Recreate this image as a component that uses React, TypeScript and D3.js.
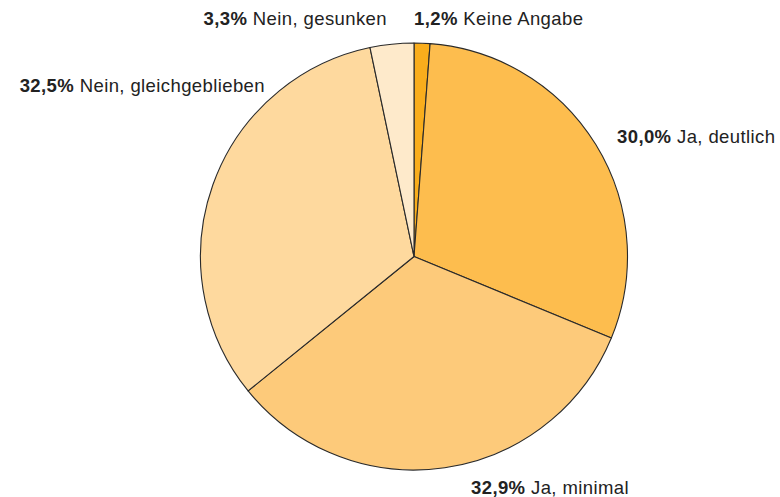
import React from "react";
import * as d3 from "d3";

const categories = ["Keine Angabe", "Ja, deutlich", "Ja, minimal", "Nein, gleichgeblieben", "Nein, gesunken"];
const values = [1.2, 30.0, 32.9, 32.5, 3.3];
const valueLabels = ["1,2%", "30,0%", "32,9%", "32,5%", "3,3%"];
const colors = ["#f9ad1c", "#fdbd4e", "#fdca7a", "#fed99e", "#feeacb"];

// label layout (x, y, anchor)
const labelLayout: [number, number, string][] = [
  [414, 25, "start"],
  [617, 143, "start"],
  [471, 494, "start"],
  [265, 92, "end"],
  [387, 25, "end"],
];

export default function App() {
  const W = 780, H = 497;
  const cx = 414, cy = 256.5, r = 213.5;
  const pie = d3.pie<number>().sort(null).value((d) => d)(values);
  const arc = d3.arc<d3.PieArcDatum<number>>().innerRadius(0).outerRadius(r);
  return (
    <svg width={W} height={H} style={{ position: "absolute", left: 0, top: 0, background: "#fff" }}
      fontFamily="'Liberation Sans', Arial, sans-serif">
      <g transform={`translate(${cx},${cy})`}>
        {pie.map((p, i) => (
          <path key={i} d={arc(p) || ""} fill={colors[i]} stroke="#2a2a2a" strokeWidth={1.1} strokeLinejoin="round" />
        ))}
      </g>
      {categories.map((c, i) => (
        <text key={i} x={labelLayout[i][0]} y={labelLayout[i][1]} textAnchor={labelLayout[i][2] as any}
          fontSize={18.5} letterSpacing={0.4} fill="#222">
          <tspan fontWeight="bold">{valueLabels[i]}</tspan>
          <tspan> {c}</tspan>
        </text>
      ))}
    </svg>
  );
}
